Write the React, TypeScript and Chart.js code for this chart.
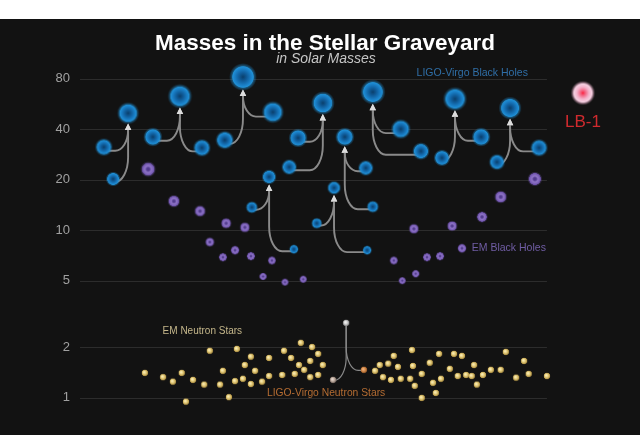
import React, { useEffect, useRef } from "react";
import { Chart, registerables } from "chart.js";

Chart.register(...registerables);

const TITLE = "Masses in the Stellar Graveyard";
const SUBTITLE = "in Solar Masses";
const yTicks = [1, 2, 5, 10, 20, 40, 80];

// LIGO-Virgo black holes; each merger = [primary, secondary, remnant] indices
const bhX = [5.1, 7.1, 10.3, 15.6, 26.1, 21.4, 31.0, 41.3, 34.9, 44.8, 46.7, 52.0, 36.8, 45.8, 40.5, 61.2, 62.7, 56.7, 50.7, 61.5, 54.4, 68.7, 73.0, 62.7, 77.5, 85.9, 80.3, 89.3, 98.3, 92.1];
const bhMass = [31.3, 20.2, 49.9, 36, 31, 63, 34.5, 50.6, 82, 23.8, 35.5, 57.3, 13.7, 7.7, 20.8, 23.5, 13.8, 36, 11.0, 7.6, 17.9, 40.1, 29.6, 66.7, 27, 36, 60.6, 25.5, 31, 53.5];
const bhMergers = [[0, 1, 2], [3, 4, 5], [6, 7, 8], [9, 10, 11], [12, 13, 14], [15, 16, 17], [18, 19, 20], [21, 22, 23], [24, 25, 26], [27, 28, 29]];

// EM black holes
const emBhX = [14.6, 20.1, 25.7, 31.3, 35.3, 27.8, 30.6, 33.2, 36.6, 41.1, 39.2, 43.9, 47.8, 97.4, 90.1, 86.1, 79.7, 71.5, 81.8, 77.1, 74.3, 67.2, 71.9, 69.0];
const emBhMass = [23.1, 14.9, 13.0, 11.0, 10.4, 8.5, 6.9, 7.6, 7.0, 6.6, 5.3, 4.9, 5.1, 20.2, 15.8, 12.0, 10.6, 10.2, 7.8, 7.0, 6.9, 6.6, 5.5, 5.0];

// EM neutron stars
const nsX = [13.9, 17.8, 19.9, 21.8, 22.7, 24.2, 26.6, 27.8, 30.0, 30.6, 31.9, 33.2, 33.6, 34.9, 35.3, 36.6, 36.6, 37.5, 39.0, 40.5, 40.5, 43.3, 43.7, 45.2, 46.0, 46.9, 47.3, 48.0, 49.3, 49.3, 49.7, 51.0, 51.0, 52.0, 63.2, 64.2, 64.9, 66.0, 66.6, 67.2, 68.1, 68.7, 70.7, 71.1, 71.3, 71.7, 73.2, 73.2, 74.9, 75.6, 76.2, 76.9, 77.3, 79.2, 80.1, 80.9, 81.8, 82.7, 83.9, 84.4, 85.0, 86.3, 88.0, 90.1, 91.2, 93.4, 95.1, 96.1, 100.0];
const nsMass = [1.41, 1.33, 1.25, 1.41, 0.95, 1.28, 1.20, 1.91, 1.20, 1.45, 1.01, 1.26, 1.96, 1.30, 1.57, 1.76, 1.21, 1.45, 1.25, 1.35, 1.73, 1.37, 1.91, 1.73, 1.39, 1.57, 2.13, 1.47, 1.66, 1.33, 2.01, 1.83, 1.37, 1.57, 1.45, 1.57, 1.33, 1.60, 1.28, 1.78, 1.53, 1.30, 1.30, 1.93, 1.55, 1.18, 1.39, 1.00, 1.62, 1.23, 1.07, 1.83, 1.30, 1.49, 1.83, 1.35, 1.78, 1.37, 1.35, 1.57, 1.20, 1.37, 1.47, 1.47, 1.88, 1.32, 1.66, 1.39, 1.35];

// LIGO-Virgo neutron star merger: [primary, secondary, remnant]
const ligoNsX = [54.2, 60.8, 57.0];
const ligoNsMass = [1.28, 1.47, 2.8];
const nsMerger = [0, 1, 2];

// LB-1
const lb1X = [107.7];
const lb1Mass = [65.8];

const annotations = [
  { text: "LIGO-Virgo Black Holes", x: 84.0, y: 86.6, color: "#2f6ea6", size: 10.5, align: "center" },
  { text: "EM Black Holes", x: 83.9, y: 7.84, color: "#6f5ca3", size: 10.5, align: "left" },
  { text: "EM Neutron Stars", x: 26.2, y: 2.51, color: "#c4b68a", size: 10, align: "center" },
  { text: "LIGO-Virgo Neutron Stars", x: 52.7, y: 1.07, color: "#b46c32", size: 10.3, align: "center" },
  { text: "LB-1", x: 107.7, y: 44.2, color: "#d02a2e", size: 17, align: "center" },
];

const FONT = '"Liberation Sans", Arial, Helvetica, sans-serif';
const massRadius = (m: number) => 1.6 * Math.pow(m, 0.44);

type Stop = [number, string];
const BLUE: Stop[] = [[0, "#0a3f6c"], [0.4, "#11609f"], [0.75, "#1a80c8"], [0.93, "#2090d6"], [1, "rgba(32,144,214,0.5)"], [1.25, "rgba(32,144,214,0)"]];
const PURPLE: Stop[] = [[0, "#4b3585"], [0.25, "#5a4296"], [0.5, "#8e74c6"], [0.72, "#8266bc"], [0.94, "#6f54ae"], [1, "rgba(111,84,174,0.45)"], [1.25, "rgba(111,84,174,0)"]];
const YELLOW: Stop[] = [[0, "#fff6cc"], [0.5, "#e8d080"], [0.9, "#b89a4a"], [1.1, "rgba(150,120,50,0)"]];
const LB1: Stop[] = [[0, "#ff1f3c"], [0.22, "#f2607e"], [0.6, "#f3b3cc"], [0.9, "#f5d2e2"], [1, "rgba(235,180,205,0.6)"], [1.2, "rgba(235,180,205,0)"]];
const LIGO_NS: Stop[][] = [
  [[0, "#efe2da"], [0.55, "#c4b2a6"], [0.9, "#8a7a70"], [1.1, "rgba(120,100,90,0)"]],
  [[0, "#f6c08c"], [0.55, "#d88e50"], [0.9, "#a8652e"], [1.1, "rgba(150,90,40,0)"]],
  [[0, "#ffffff"], [0.55, "#cfcfcf"], [0.9, "#8e8e8e"], [1.1, "rgba(140,140,140,0)"]],
];

const spriteCache = new Map<string, HTMLCanvasElement>();
function sprite(name: string, stops: Stop[], r: number, offset = 0): HTMLCanvasElement {
  const key = name + ":" + r.toFixed(2);
  const hit = spriteCache.get(key);
  if (hit) return hit;
  const outer = r * stops[stops.length - 1][0];
  const size = Math.ceil(outer * 2) + 2;
  const c = document.createElement("canvas");
  c.width = size;
  c.height = size;
  const g = c.getContext("2d") as CanvasRenderingContext2D;
  const cx = size / 2;
  const cy = size / 2;
  const grad = g.createRadialGradient(cx - offset * r, cy - offset * r, 0, cx, cy, outer);
  stops.forEach(([p, col]) => grad.addColorStop(Math.min(1, (p * r) / outer), col));
  g.fillStyle = grad;
  g.beginPath();
  g.arc(cx, cy, outer, 0, Math.PI * 2);
  g.fill();
  spriteCache.set(key, c);
  return c;
}

const toPoints = (xs: number[], ys: number[]) => xs.map((x, i) => ({ x, y: ys[i] }));

function drawArrow(ctx: CanvasRenderingContext2D, px: number, py: number, pr: number, rx: number, ry: number, rr: number, head: boolean, maxR: number) {
  const headH = head ? 6.5 : 0;
  const tipY = ry + (head ? rr + 1.5 : 0);
  const y0 = py + pr * 0.5;
  const dx = rx - px;
  const s = Math.sign(dx) || 1;
  const Rh = Math.max(0, Math.min(maxR, Math.abs(dx)));
  const Rv = Math.max(0, Math.min(Rh * 1.9, y0 - tipY - headH));
  const k = 0.5523;
  ctx.beginPath();
  ctx.moveTo(px, y0);
  ctx.lineTo(rx - s * Rh, y0);
  ctx.bezierCurveTo(rx - s * Rh + s * Rh * k, y0, rx, y0 - Rv + Rv * k, rx, y0 - Rv);
  ctx.lineTo(rx, tipY + headH - 1);
  ctx.stroke();
  if (head) {
    ctx.beginPath();
    ctx.moveTo(rx, tipY);
    ctx.lineTo(rx - 3.2, tipY + headH);
    ctx.lineTo(rx + 3.2, tipY + headH);
    ctx.closePath();
    ctx.fill();
  }
}

const backdropPlugin = {
  id: "backdrop",
  beforeDatasetsDraw(chart: any) {
    const { ctx, chartArea, scales } = chart;
    const xs = scales.x;
    const ys = scales.y;
    ctx.save();
    ctx.strokeStyle = "#2c2c2c";
    ctx.lineWidth = 1;
    const xEnd = xs.getPixelForValue(100);
    yTicks.forEach((v) => {
      const y = Math.round(ys.getPixelForValue(v)) + 0.5;
      ctx.beginPath();
      ctx.moveTo(chartArea.left, y);
      ctx.lineTo(xEnd, y);
      ctx.stroke();
    });
    ctx.strokeStyle = "#8a8a8a";
    ctx.fillStyle = "#dcdcdc";
    ctx.lineWidth = 1.9;
    ctx.lineCap = "round";
    bhMergers.forEach(([a, b, r]) => {
      const rx = xs.getPixelForValue(bhX[r]);
      const ry = ys.getPixelForValue(bhMass[r]);
      const rr = massRadius(bhMass[r]);
      [a, b].forEach((p) => {
        drawArrow(ctx, xs.getPixelForValue(bhX[p]), ys.getPixelForValue(bhMass[p]), massRadius(bhMass[p]), rx, ry, rr, true, 13);
      });
    });
    ctx.strokeStyle = "#8a8a8a";
    ctx.lineWidth = 1.2;
    const [na, nb, nr] = nsMerger;
    const nrx = xs.getPixelForValue(ligoNsX[nr]);
    const nry = ys.getPixelForValue(ligoNsMass[nr]);
    [na, nb].forEach((p) => {
      drawArrow(ctx, xs.getPixelForValue(ligoNsX[p]), ys.getPixelForValue(ligoNsMass[p]), 1, nrx, nry, 3, false, 12);
    });
    ctx.restore();
  },
  afterDraw(chart: any) {
    const { ctx, scales } = chart;
    ctx.save();
    ctx.fillStyle = "#ffffff";
    ctx.font = "bold 22.5px " + FONT;
    ctx.textAlign = "center";
    ctx.textBaseline = "alphabetic";
    const w = ctx.measureText(TITLE).width;
    const sc = Math.min(1, 340 / w);
    ctx.save();
    ctx.translate(325, 31);
    ctx.scale(sc, 1);
    ctx.fillText(TITLE, 0, 0);
    ctx.restore();
    ctx.fillStyle = "#c6c6c6";
    ctx.font = "italic 14px " + FONT;
    ctx.fillText(SUBTITLE, 326, 44);
    ctx.textBaseline = "middle";
    annotations.forEach((a) => {
      ctx.fillStyle = a.color;
      ctx.font = a.size + "px " + FONT;
      ctx.textAlign = a.align as CanvasTextAlign;
      ctx.fillText(a.text, scales.x.getPixelForValue(a.x), scales.y.getPixelForValue(a.y));
    });
    ctx.restore();
  },
};

export default function App() {
  const ref = useRef<HTMLCanvasElement>(null);
  useEffect(() => {
    const canvas = ref.current;
    if (!canvas) return;
    const chart = new Chart(canvas, {
      type: "scatter",
      data: {
        datasets: [
          {
            label: "EM Neutron Stars",
            data: toPoints(nsX, nsMass),
            pointRadius: 3.3,
            pointBorderWidth: 0,
            pointStyle: () => sprite("ns", YELLOW, 3.3, 0.3),
            clip: false,
          },
          {
            label: "LIGO-Virgo Neutron Stars",
            data: toPoints(ligoNsX, ligoNsMass),
            pointRadius: 3.3,
            pointBorderWidth: 0,
            pointStyle: (c: any) => sprite("ligons" + c.dataIndex, LIGO_NS[c.dataIndex], 3.3, 0.3),
            clip: false,
          },
          {
            label: "EM Black Holes",
            data: toPoints(emBhX, emBhMass),
            pointRadius: (c: any) => massRadius(c.raw.y),
            pointBorderWidth: 0,
            pointStyle: (c: any) => sprite("embh", PURPLE, massRadius(c.raw.y)),
            clip: false,
          },
          {
            label: "LIGO-Virgo Black Holes",
            data: toPoints(bhX, bhMass),
            pointRadius: (c: any) => massRadius(c.raw.y),
            pointBorderWidth: 0,
            pointStyle: (c: any) => sprite("bh", BLUE, massRadius(c.raw.y)),
            clip: false,
          },
          {
            label: "LB-1",
            data: toPoints(lb1X, lb1Mass),
            pointRadius: (c: any) => massRadius(c.raw.y),
            pointBorderWidth: 0,
            pointStyle: (c: any) => sprite("lb1", LB1, massRadius(c.raw.y)),
            clip: false,
          },
        ],
      },
      options: {
        responsive: false,
        animation: false,
        events: [],
        layout: { padding: { left: 0, right: 23, top: 43.5, bottom: 11 } },
        plugins: { legend: { display: false }, tooltip: { enabled: false } },
        scales: {
          x: { type: "linear", min: 0, max: 115, display: false },
          y: {
            type: "logarithmic",
            min: 0.7,
            max: 100,
            grid: { display: false },
            border: { display: false },
            afterBuildTicks: (scale: any) => {
              scale.ticks = yTicks.map((v) => ({ value: v }));
            },
            afterFit: (scale: any) => {
              scale.width = 80;
            },
            ticks: {
              color: "#a0a0a0",
              font: { size: 13, family: FONT },
              padding: 2,
              autoSkip: false,
              callback: (v: any) => String(v),
            },
          },
        },
      },
      plugins: [backdropPlugin],
    } as any);
    return () => chart.destroy();
  }, []);
  return (
    <div style={{ position: "fixed", left: 0, top: 0, width: 640, height: 435, background: "#ffffff" }}>
      <canvas
        ref={ref}
        width={640}
        height={416}
        style={{ position: "absolute", left: 0, top: 19, width: 640, height: 416, background: "#121212" }}
      />
    </div>
  );
}
